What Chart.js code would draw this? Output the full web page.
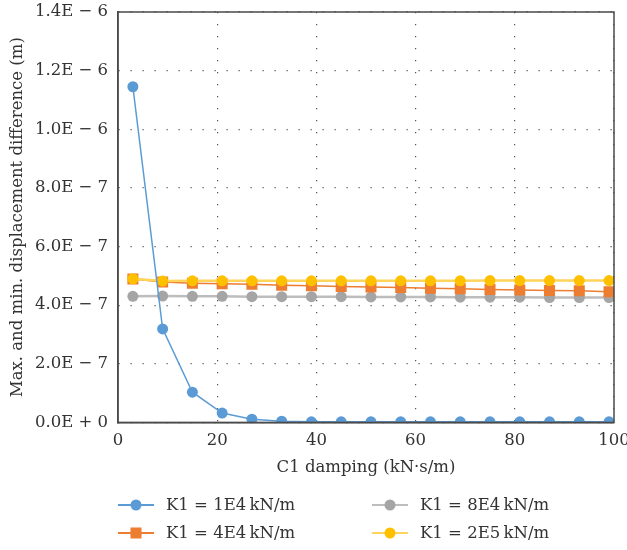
<!DOCTYPE html>
<html lang="en">
<head>
    <meta charset="UTF-8">
    <title>C1 damping vs displacement difference</title>
    <script src="https://cdn.jsdelivr.net/npm/chart.js"></script>
    <style>
        * { margin: 0; padding: 0; box-sizing: border-box; }
        body { background: #fff; }
        .chart-box { width: 627px; height: 550px; position: relative; }
    </style>
</head>
<body>
    <div class="chart-box">
        <canvas id="dampChart"></canvas>
    </div>

    <script>
        // C1 damping (kN·s/m)
        const damping = [3, 9, 15, 21, 27, 33, 39, 45, 51, 57, 63, 69, 75, 81, 87, 93, 99];

        // Max. and min. displacement difference (m)
        const k1e4 = [1.145e-6, 3.19e-7, 1.03e-7, 3.2e-8, 1.1e-8, 4e-9, 2e-9, 2e-9, 2e-9, 2e-9, 2e-9, 2e-9, 2e-9, 2e-9, 2e-9, 2e-9, 2e-9];
        const k4e4 = [4.89e-7, 4.79e-7, 4.75e-7, 4.73e-7, 4.71e-7, 4.68e-7, 4.66e-7, 4.64e-7, 4.62e-7, 4.60e-7, 4.58e-7, 4.56e-7, 4.53e-7, 4.52e-7, 4.50e-7, 4.49e-7, 4.46e-7];
        const k8e4 = [4.30e-7, 4.31e-7, 4.30e-7, 4.30e-7, 4.29e-7, 4.29e-7, 4.29e-7, 4.29e-7, 4.28e-7, 4.28e-7, 4.28e-7, 4.27e-7, 4.27e-7, 4.27e-7, 4.26e-7, 4.26e-7, 4.26e-7];
        const k2e5 = [4.90e-7, 4.82e-7, 4.83e-7, 4.83e-7, 4.83e-7, 4.83e-7, 4.83e-7, 4.83e-7, 4.83e-7, 4.83e-7, 4.83e-7, 4.83e-7, 4.84e-7, 4.84e-7, 4.84e-7, 4.84e-7, 4.84e-7];

        const seriesNames = ['K1 = 1E4\u2009kN/m', 'K1 = 4E4\u2009kN/m', 'K1 = 8E4\u2009kN/m', 'K1 = 2E5\u2009kN/m'];

        const serif = "'DejaVu Serif', 'Liberation Serif', serif";
        const fontSize = 16.5;
        const textColor = '#333';

        const blue = '#5b9bd5', orange = '#ed7d31', gray = '#a5a5a5', yellow = '#ffc000';

        function pts(values) {
            return values.map((v, i) => ({ x: damping[i], y: v }));
        }

        // 1.4E − 6 style labels
        function sciLabel(v) {
            if (Math.abs(v) < 1e-12) return '0.0E + 0';
            const parts = v.toExponential(1).split('e');
            const exp = parseInt(parts[1], 10);
            return parts[0] + 'E ' + (exp < 0 ? '\u2212 ' : '+ ') + Math.abs(exp);
        }

        // box round the plot area
        const frame = {
            id: 'frame',
            afterDatasetsDraw(chart) {
                const a = chart.chartArea, ctx = chart.ctx;
                ctx.save();
                ctx.strokeStyle = '#4a4a4a';
                ctx.lineWidth = 1.5;
                ctx.strokeRect(a.left, a.top, a.right - a.left, a.bottom - a.top);
                ctx.restore();
            }
        };

        // two-column legend under the axis title
        const legendOrder = [0, 2, 1, 3];
        const gridLegend = {
            id: 'gridLegend',
            afterDraw(chart) {
                const ctx = chart.ctx, a = chart.chartArea;
                ctx.save();
                ctx.font = fontSize + 'px ' + serif;
                ctx.textBaseline = 'middle';
                legendOrder.forEach((dsIndex, k) => {
                    const ds = chart.data.datasets[dsIndex];
                    const col = k % 2, row = Math.floor(k / 2);
                    const x0 = a.left + col * 254;
                    const y = 505 + row * 28;
                    ctx.strokeStyle = ds.borderColor;
                    ctx.lineWidth = 2;
                    ctx.beginPath();
                    ctx.moveTo(x0, y);
                    ctx.lineTo(x0 + 36, y);
                    ctx.stroke();
                    ctx.fillStyle = ds.pointBackgroundColor;
                    ctx.beginPath();
                    if (ds.pointStyle === 'rect') {
                        ctx.rect(x0 + 18 - 5.5, y - 5.5, 11, 11);
                    } else {
                        ctx.arc(x0 + 18, y, 5.5, 0, Math.PI * 2);
                    }
                    ctx.fill();
                    ctx.fillStyle = textColor;
                    ctx.fillText(ds.label, x0 + 48, y + 1);
                });
                ctx.restore();
            }
        };

        function series(label, values, color, lineColor, width, style, order) {
            return {
                label: label,
                data: pts(values),
                borderColor: lineColor,
                borderWidth: width,
                pointBackgroundColor: color,
                pointBorderColor: color,
                pointBorderWidth: 0,
                pointRadius: style === 'rect' ? 7.8 : 5.5,
                pointStyle: style,
                tension: 0,
                order: order
            };
        }

        const ctx = document.getElementById('dampChart').getContext('2d');
        new Chart(ctx, {
            type: 'line',
            data: {
                datasets: [
                    series(seriesNames[0], k1e4, blue, blue, 1.5, 'circle', 0),
                    series(seriesNames[1], k4e4, orange, orange, 1.5, 'rect', 2),
                    series(seriesNames[2], k8e4, gray, '#bdbdbd', 2.5, 'circle', 3),
                    series(seriesNames[3], k2e5, yellow, '#ffd45a', 2.5, 'circle', 1)
                ]
            },
            options: {
                responsive: true,
                maintainAspectRatio: false,
                animation: false,
                layout: { padding: { top: 12, right: 13, left: 0, bottom: 72 } },
                plugins: {
                    legend: { display: false },
                    tooltip: { enabled: false }
                },
                scales: {
                    x: {
                        type: 'linear',
                        min: 0,
                        max: 100,
                        ticks: {
                            stepSize: 20,
                            padding: 8,
                            color: textColor,
                            font: { family: serif, size: fontSize }
                        },
                        grid: { color: '#555', lineWidth: 1.2, drawTicks: false },
                        border: { color: '#4a4a4a', width: 1.5, dash: [1.2, 10.8] },
                        title: {
                            display: true,
                            text: 'C1 damping (kN\u00b7s/m)',
                            color: textColor,
                            font: { family: serif, size: fontSize },
                            padding: { top: 0, bottom: 0 }
                        },
                        afterFit(scale) {
                            scale.paddingLeft = 0;
                            scale.paddingRight = 0;
                        }
                    },
                    y: {
                        min: 0,
                        max: 1.4e-6,
                        ticks: {
                            stepSize: 2e-7,
                            padding: 10,
                            color: textColor,
                            font: { family: serif, size: fontSize },
                            callback: (v) => sciLabel(v)
                        },
                        grid: { color: '#555', lineWidth: 1.2, drawTicks: false },
                        border: { color: '#4a4a4a', width: 1.5, dash: [1.2, 10.8] },
                        title: {
                            display: true,
                            text: 'Max. and min. displacement difference (m)',
                            color: textColor,
                            font: { family: serif, size: fontSize },
                            padding: { top: 8, bottom: 6 }
                        },
                        afterFit(scale) {
                            scale.width = 118;
                            scale.paddingTop = 0;
                            scale.paddingBottom = 0;
                        }
                    }
                }
            },
            plugins: [frame, gridLegend]
        });
    </script>
</body>
</html>
